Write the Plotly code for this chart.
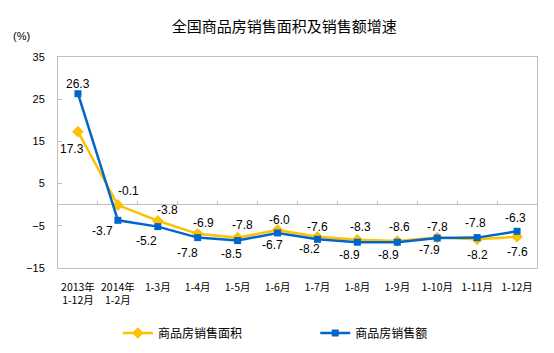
import plotly.graph_objects as go

categories = ["2013年<br>1-12月", "2014年<br>1-2月", "1-3月", "1-4月", "1-5月", "1-6月",
              "1-7月", "1-8月", "1-9月", "1-10月", "1-11月", "1-12月"]
area_growth = [17.3, -0.1, -3.8, -6.9, -7.8, -6.0, -7.6, -8.3, -8.6, -7.8, -8.2, -7.6]
sales_growth = [26.3, -3.7, -5.2, -7.8, -8.5, -6.7, -8.2, -8.9, -8.9, -7.9, -7.8, -6.3]
y_ticks = [35, 25, 15, 5, -5, -15]
series_names = ["商品房销售面积", "商品房销售额"]

# data-label offsets in pixels (x, y; y positive = up)
area_label_shift = [(-6, -17), (11, 14), (10, 11), (6, 11), (5, 13), (2, 10),
                    (0, 10), (3, 13), (2, 14), (0, 11), (0, -16), (0, -15)]
sales_label_shift = [(0, 10), (-15, -11), (-11, -14), (-10, -15), (-6, -13), (-5, -12),
                     (-8, -10), (-8, -13), (-9, -13), (-8, -12), (-2, 15), (-2, 13)]

YELLOW = "#FFC000"
BLUE = "#0066CC"
GRAY = "#BFBFBF"
CJK = "Noto Sans CJK SC"
LAT = "Liberation Sans, Arial, sans-serif"

idx = list(range(len(categories)))

fig = go.Figure()
fig.add_trace(go.Scatter(
    x=idx, y=area_growth, name=series_names[0], mode="lines+markers",
    line=dict(color=YELLOW, width=2.5),
    marker=dict(symbol="diamond", size=9, color=YELLOW),
    legend="legend", hoverinfo="skip"))
fig.add_trace(go.Scatter(
    x=idx, y=sales_growth, name=series_names[1], mode="lines+markers",
    line=dict(color=BLUE, width=2.5),
    marker=dict(symbol="square", size=7, color=BLUE),
    legend="legend2", hoverinfo="skip"))
# helper trace for the boundary-tick axis on the zero line
fig.add_trace(go.Scatter(x=[0], y=[0], xaxis="x2", mode="markers", opacity=0,
                         showlegend=False, hoverinfo="skip"))

annotations = []
for vals, shifts in ((area_growth, area_label_shift), (sales_growth, sales_label_shift)):
    for i, (v, (dx, dy)) in enumerate(zip(vals, shifts)):
        annotations.append(dict(
            x=i, y=v, xref="x", yref="y", text=f"{v:.1f}", showarrow=False,
            xshift=dx, yshift=dy, font=dict(family=LAT, size=12, color="#000000")))

annotations.append(dict(
    x=-0.077, y=1.0995, xref="paper", yref="paper", text="(%)", showarrow=False,
    xanchor="center", yanchor="middle", font=dict(family=LAT, size=11, color="#000000")))

fig.update_layout(
    width=554, height=353,
    margin=dict(l=58, r=17, t=57, b=85),
    paper_bgcolor="white", plot_bgcolor="white",
    title=dict(text="全国商品房销售面积及销售额增速", x=0.513, xref="container", xanchor="center",
               y=1 - 27 / 353, yref="container", yanchor="middle",
               font=dict(family=CJK, size=15, color="#000000")),
    xaxis=dict(type="linear", range=[-0.5, 11.5], tickvals=idx, ticktext=categories,
               showline=True, linecolor=GRAY, linewidth=1, mirror=True, automargin=False,
               ticks="", showgrid=False, zeroline=False, ticklabelstandoff=9,
               tickfont=dict(family=CJK, size=10.5, color="#000000")),
    xaxis2=dict(overlaying="x", anchor="free", position=0.3, range=[-0.5, 11.5],
                tickvals=[i + 0.5 for i in idx[:-1]], ticks="inside", ticklen=4,
                tickcolor=GRAY, showticklabels=False, showline=False, showgrid=False,
                zeroline=False, automargin=False),
    yaxis=dict(range=[-15, 35], tickvals=y_ticks, showgrid=False, automargin=False,
               zeroline=True, zerolinecolor=GRAY, zerolinewidth=1,
               showline=True, linecolor=GRAY, linewidth=1, mirror=True,
               ticks="inside", ticklen=4, tickcolor=GRAY, ticklabelstandoff=10,
               tickfont=dict(family=LAT, size=11, color="#000000")),
    legend=dict(x=0.125, xanchor="left", y=1 - 333 / 353, yref="container", yanchor="middle",
                orientation="h", bgcolor="rgba(0,0,0,0)",
                font=dict(family=CJK, size=12, color="#000000")),
    legend2=dict(x=0.537, xanchor="left", y=1 - 333 / 353, yref="container", yanchor="middle",
                 orientation="h", bgcolor="rgba(0,0,0,0)",
                 font=dict(family=CJK, size=12, color="#000000")),
    annotations=annotations,
    showlegend=True,
)

fig.write_html("out.html")
